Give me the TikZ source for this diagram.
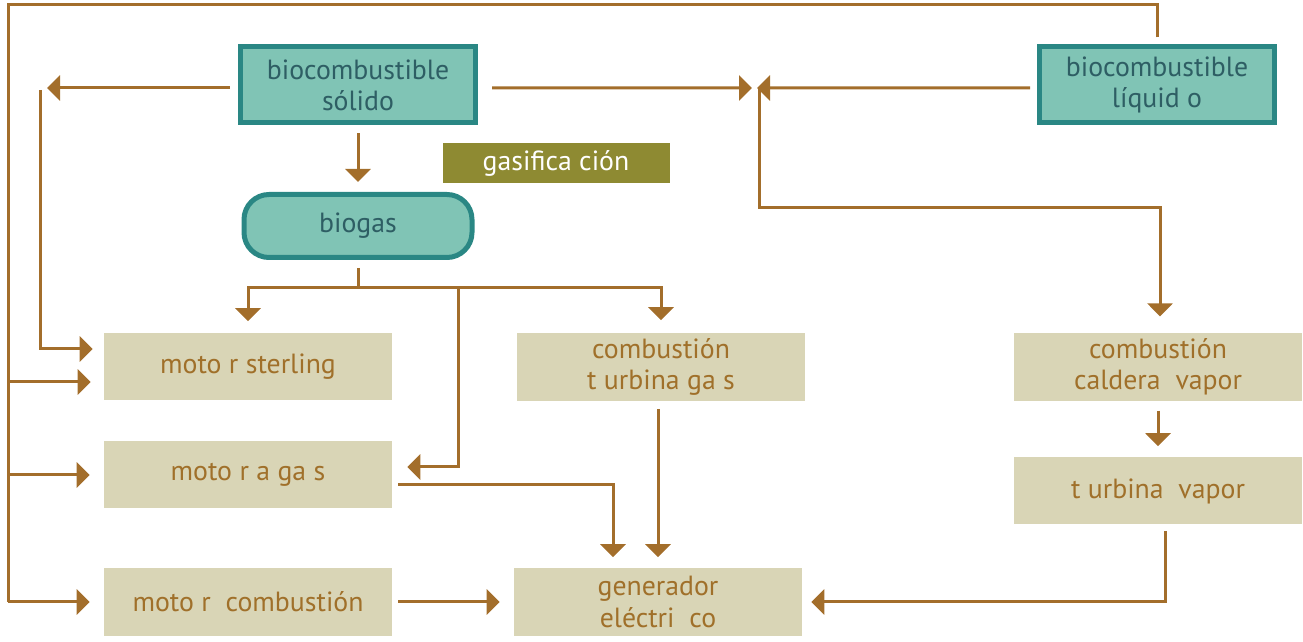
\documentclass[tikz,border=0pt]{standalone}
\usepackage{fontspec}
\setmainfont{PT Sans}
\usetikzlibrary{arrows.meta}
\definecolor{tealfill}{HTML}{80C4B5}
\definecolor{tealline}{HTML}{2A8784}
\definecolor{tealtext}{HTML}{2E5E64}
\definecolor{beigefill}{HTML}{D9D5B6}
\definecolor{browntext}{HTML}{A0702A}
\definecolor{brownline}{HTML}{A36E2B}
\definecolor{olivefill}{HTML}{8E8A32}
\begin{document}
\begin{tikzpicture}[x=0.2mm, y=-0.2mm,
            fuente/.style={rectangle, fill=tealfill, draw=tealline, line width=1mm, text=tealtext, minimum width=47mm, minimum height=15.2mm, align=center, font=\fontsize{15.8}{17.8}\selectfont},
            gasnodo/.style={fuente, rounded corners=5mm, minimum width=45.6mm, minimum height=12.6mm},
            proceso/.style={rectangle, fill=beigefill, text=browntext, minimum width=57.6mm, minimum height=13.4mm, align=center, font=\fontsize{15.8}{17.8}\selectfont},
            etiqueta/.style={rectangle, fill=olivefill, text=white, minimum width=45.4mm, minimum height=8mm, font=\fontsize{15.8}{17.8}\selectfont},
            linea/.style={draw=brownline, line width=0.6mm},
            flecha/.style={linea, -{Triangle[length=2.6mm, width=5mm]}}
        ]
            \useasboundingbox (0,0) rectangle (1303,642);
            % nodos
            \node(solidonode) at (358,85) [fuente] {biocombustible\\sólido};
            \node(liquidonode) at (1157,85) [fuente] {biocombustible\\líquid o};
            \node(gasifnode) at (556,163) [etiqueta] {gasifica ción};
            \node(biogasnode) at (358,226) [gasnodo] {biogas};
            \node(sterlingnode) at (248,367) [proceso] {moto r sterling};
            \node(turbgasnode) at (661,367) [proceso] {combustión\\t urbina ga s};
            \node(calderanode) at (1158,367) [proceso] {combustión\\caldera\ \ vapor};
            \node(gasnode) at (248,475) [proceso] {moto r a ga s};
            \node(turbvapornode) at (1158,491) [proceso] {t urbina\ \ vapor};
            \node(combnode) at (248,602) [proceso] {moto r\ \ combustión};
            \node(generadornode) at (658,602) [proceso] {generador\\eléctri\ \ co};
            % puntos de paso
            \coordinate (izq) at (8,5);
            \coordinate (vertizq) at (40,90);
            \coordinate (cruce) at (755,88);
            \coordinate (codo) at (1160,208);
            \coordinate (solidoizq) at ([yshift=-0.6mm]solidonode.west);
            \coordinate (solidoder) at ([yshift=-0.6mm]solidonode.east);
            \coordinate (liquidoizq) at ([yshift=-0.6mm]liquidonode.west);
            \coordinate (sterlingalto) at ([yshift=3.6mm]sterlingnode.west);
            \coordinate (sterlingbajo) at ([yshift=-3mm]sterlingnode.west);
            \coordinate (reparto) at ([yshift=-5.6mm]biogasnode.south);
            \coordinate (bajada) at ([xshift=20mm]reparto);
            % marco exterior
            \draw[linea] ([yshift=1.4mm]liquidonode.north) |- (izq) -- (izq |- combnode.west);
            \draw[flecha, shorten >=2.6mm] (izq |- sterlingbajo) -- (sterlingbajo);
            \draw[flecha, shorten >=2.8mm] (izq |- gasnode.west) -- (gasnode.west);
            \draw[flecha, shorten >=2.8mm] (izq |- combnode.west) -- (combnode.west);
            % solido
            \draw[flecha, shorten <=1.6mm, shorten >=1.4mm] (solidoizq) -- (vertizq |- solidoizq);
            \draw[flecha, shorten >=2.2mm] (vertizq) |- (sterlingalto);
            \draw[flecha, shorten <=1.6mm, shorten >=2mm] (solidonode.south) -- (biogasnode.north);
            \draw[flecha, shorten <=2.8mm, shorten >=0.6mm] (solidoder) -- (cruce);
            \draw[flecha, shorten <=1.4mm, shorten >=0.4mm] (liquidoizq) -- (cruce);
            \draw[flecha, shorten >=3.2mm] ([xshift=0.8mm]cruce) |- (codo) -- (codo |- calderanode.north);
            % biogas
            \draw[linea, shorten <=1.6mm] (biogasnode.south) -- (reparto);
            \draw[flecha, shorten >=2.4mm] (reparto) -| (sterlingnode.north);
            \draw[flecha, shorten >=2.4mm] (reparto) -| (turbgasnode.north);
            \draw[flecha, shorten >=3mm] (bajada) |- ([yshift=1.6mm]gasnode.east);
            % hacia el generador
            \draw[flecha, shorten <=1.2mm, shorten >=2.2mm] ([yshift=-2mm]gasnode.east) -| ([xshift=-9mm]generadornode.north);
            \draw[flecha, shorten <=1.4mm, shorten >=2.2mm] ([xshift=-0.6mm]turbgasnode.south) -- ([xshift=-0.6mm]turbgasnode.south |- generadornode.north);
            \draw[flecha, shorten <=1.2mm, shorten >=2.8mm] (combnode.east) -- (generadornode.west);
            \draw[flecha, shorten <=1.8mm, shorten >=2.2mm] (calderanode.south) -- (turbvapornode.north);
            \draw[flecha, shorten <=1.2mm, shorten >=1.8mm] ([xshift=1.4mm]turbvapornode.south) |- (generadornode.east);
        \end{tikzpicture}
\end{document}
